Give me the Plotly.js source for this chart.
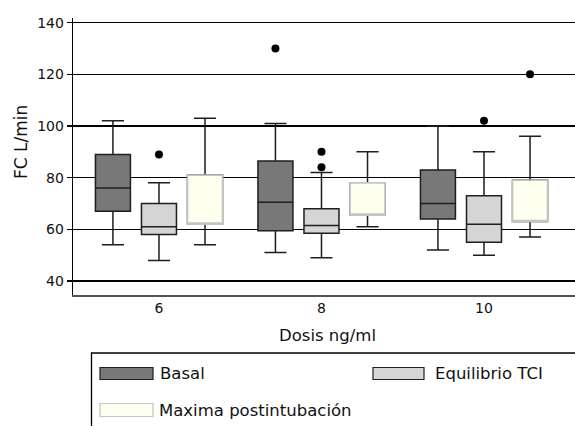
<!DOCTYPE html>
<html>
<head>
<meta charset="utf-8">
<script src="https://cdn.plot.ly/plotly-3.0.1.min.js"></script>
<style>html,body{margin:0;padding:0;background:#fff;}#chart{width:575px;height:426px;}</style>
</head>
<body>
<div id="chart"></div>
<script>
// ---- data ----
const doses = ['6', '8', '10'];

const basalQ1  = [67, 59.5, 64];
const basalMed = [76, 70.5, 70];
const basalQ3  = [89, 86.5, 83];
const basalLo  = [54, 51, 52];
const basalHi  = [102, 101, 100];
// sample points per box (only those outside the fences are drawn)
const basalPts = [[76], [70.5, 130], [70]];

const equiQ1  = [58, 58.5, 55];
const equiMed = [61, 61.5, 62];
const equiQ3  = [70, 68, 73];
const equiLo  = [48, 49, 50];
const equiHi  = [78, 82, 90];
const equiPts = [[61, 89], [61.5, 84, 90], [62, 102]];

const maxQ1  = [62, 65.5, 63];
const maxMed = [62, 65.5, 63];
const maxQ3  = [81, 78, 79];
const maxLo  = [54, 61, 57];
const maxHi  = [103, 90, 96];
const maxPts = [[62], [65.5], [63, 120]];

const seriesNames = ['Basal', 'Equilibrio TCI', 'Maxima postintubación'];
const yTitle = 'FC L/min';
const xTitle = 'Dosis ng/ml';

// ---- styles ----
const FONT = 'DejaVu Sans';
const fills = ['#787878', '#d5d5d5', '#fffff0'];
const edge = '#1e1e1e';
const lightEdge = '#c4c4c4';

function boxTrace(q1, med, q3, lo, hi, pts, fill, lineColor, lw, group, ww) {
  const t = {
    type: 'box', orientation: 'v', x: doses,
    q1: q1, median: med, q3: q3, lowerfence: lo, upperfence: hi,
    boxpoints: pts ? 'outliers' : false, pointpos: 0, jitter: 0,
    marker: {color: '#000', size: 8, line: {width: 0}},
    fillcolor: fill, line: {color: lineColor, width: lw},
    whiskerwidth: ww, offsetgroup: group, showlegend: false, hoverinfo: 'skip'
  };
  if (pts) t.y = pts;
  return t;
}

const data = [
  boxTrace(basalQ1, basalMed, basalQ3, basalLo, basalHi, basalPts, fills[0], edge, 1.5, 'b', 0.63),
  boxTrace(equiQ1, equiMed, equiQ3, equiLo, equiHi, equiPts, fills[1], edge, 1.5, 'e', 0.63),
  boxTrace(maxQ1, maxMed, maxQ3, maxLo, maxHi, maxPts, fills[2], edge, 1.5, 'm', 0.63),
  // light outline of the maxima box drawn over the dark one
  boxTrace(maxQ1, maxMed, maxQ3, maxQ1, maxQ3, null, fills[2], lightEdge, 1.7, 'm', 0)
];

// ---- layout helpers (pixel -> paper) ----
const W = 575, H = 426;
const M = {l: 73, r: 0, t: 18, b: 131};
const PW = W - M.l - M.r, PH = H - M.t - M.b;
const px = x => (x - M.l) / PW;
const py = y => (H - M.b - y) / PH;

const shapes = [
  {type: 'rect', xref: 'paper', yref: 'paper', x0: px(91.5), x1: px(590), y0: py(353), y1: py(440),
   line: {color: '#000', width: 1.3}, fillcolor: 'rgba(0,0,0,0)'},
  {type: 'rect', xref: 'paper', yref: 'paper', x0: px(100), x1: px(153), y0: py(367.5), y1: py(379.5),
   line: {color: edge, width: 1.2}, fillcolor: fills[0]},
  {type: 'rect', xref: 'paper', yref: 'paper', x0: px(373), x1: px(424), y0: py(367.5), y1: py(379.5),
   line: {color: edge, width: 1.2}, fillcolor: fills[1]},
  {type: 'rect', xref: 'paper', yref: 'paper', x0: px(100), x1: px(153), y0: py(403.5), y1: py(416.5),
   line: {color: lightEdge, width: 1.2}, fillcolor: fills[2]}
];

const legFont = {family: FONT, size: 16.5, color: '#111'};
const annotations = [
  {xref: 'paper', yref: 'paper', x: px(158), y: py(373.5), xanchor: 'left', yanchor: 'middle',
   text: seriesNames[0], showarrow: false, font: legFont},
  {xref: 'paper', yref: 'paper', x: px(433), y: py(373.5), xanchor: 'left', yanchor: 'middle',
   text: seriesNames[1], showarrow: false, font: legFont},
  {xref: 'paper', yref: 'paper', x: px(157), y: py(410), xanchor: 'left', yanchor: 'middle',
   text: seriesNames[2], showarrow: false, font: legFont},
  {xref: 'paper', yref: 'paper', x: px(327), y: py(336), xanchor: 'center', yanchor: 'middle',
   text: xTitle, showarrow: false, font: {family: FONT, size: 16.5, color: '#111'}},
  {xref: 'paper', yref: 'paper', x: px(21), y: py(142), xanchor: 'center', yanchor: 'middle',
   text: yTitle, textangle: -90, showarrow: false, font: {family: FONT, size: 17, color: '#111'}}
];

const layout = {
  width: W, height: H,
  margin: M,
  paper_bgcolor: '#fff', plot_bgcolor: '#fff',
  font: {family: FONT, color: '#111'},
  boxmode: 'group', boxgap: 0.15, boxgroupgap: 0.24,
  showlegend: false,
  xaxis: {
    type: 'category', categoryorder: 'array', categoryarray: doses,
    range: [-0.529, 2.56],
    showgrid: false, zeroline: false,
    showline: true, linecolor: '#555', linewidth: 1.6,
    ticks: '', tickfont: {family: FONT, size: 14, color: '#111'}
  },
  yaxis: {
    range: [34.6, 141.8], tick0: 0, dtick: 20,
    showgrid: true, gridcolor: '#000', gridwidth: 1.4,
    zeroline: false,
    showline: true, linecolor: '#000', linewidth: 1.3,
    ticks: 'outside', ticklen: 5, tickwidth: 1.3, tickcolor: '#000',
    tickfont: {family: FONT, size: 14, color: '#111'}
  },
  shapes: shapes,
  annotations: annotations
};

Plotly.newPlot('chart', data, layout, {staticPlot: true, displayModeBar: false});
</script>
</body>
</html>
